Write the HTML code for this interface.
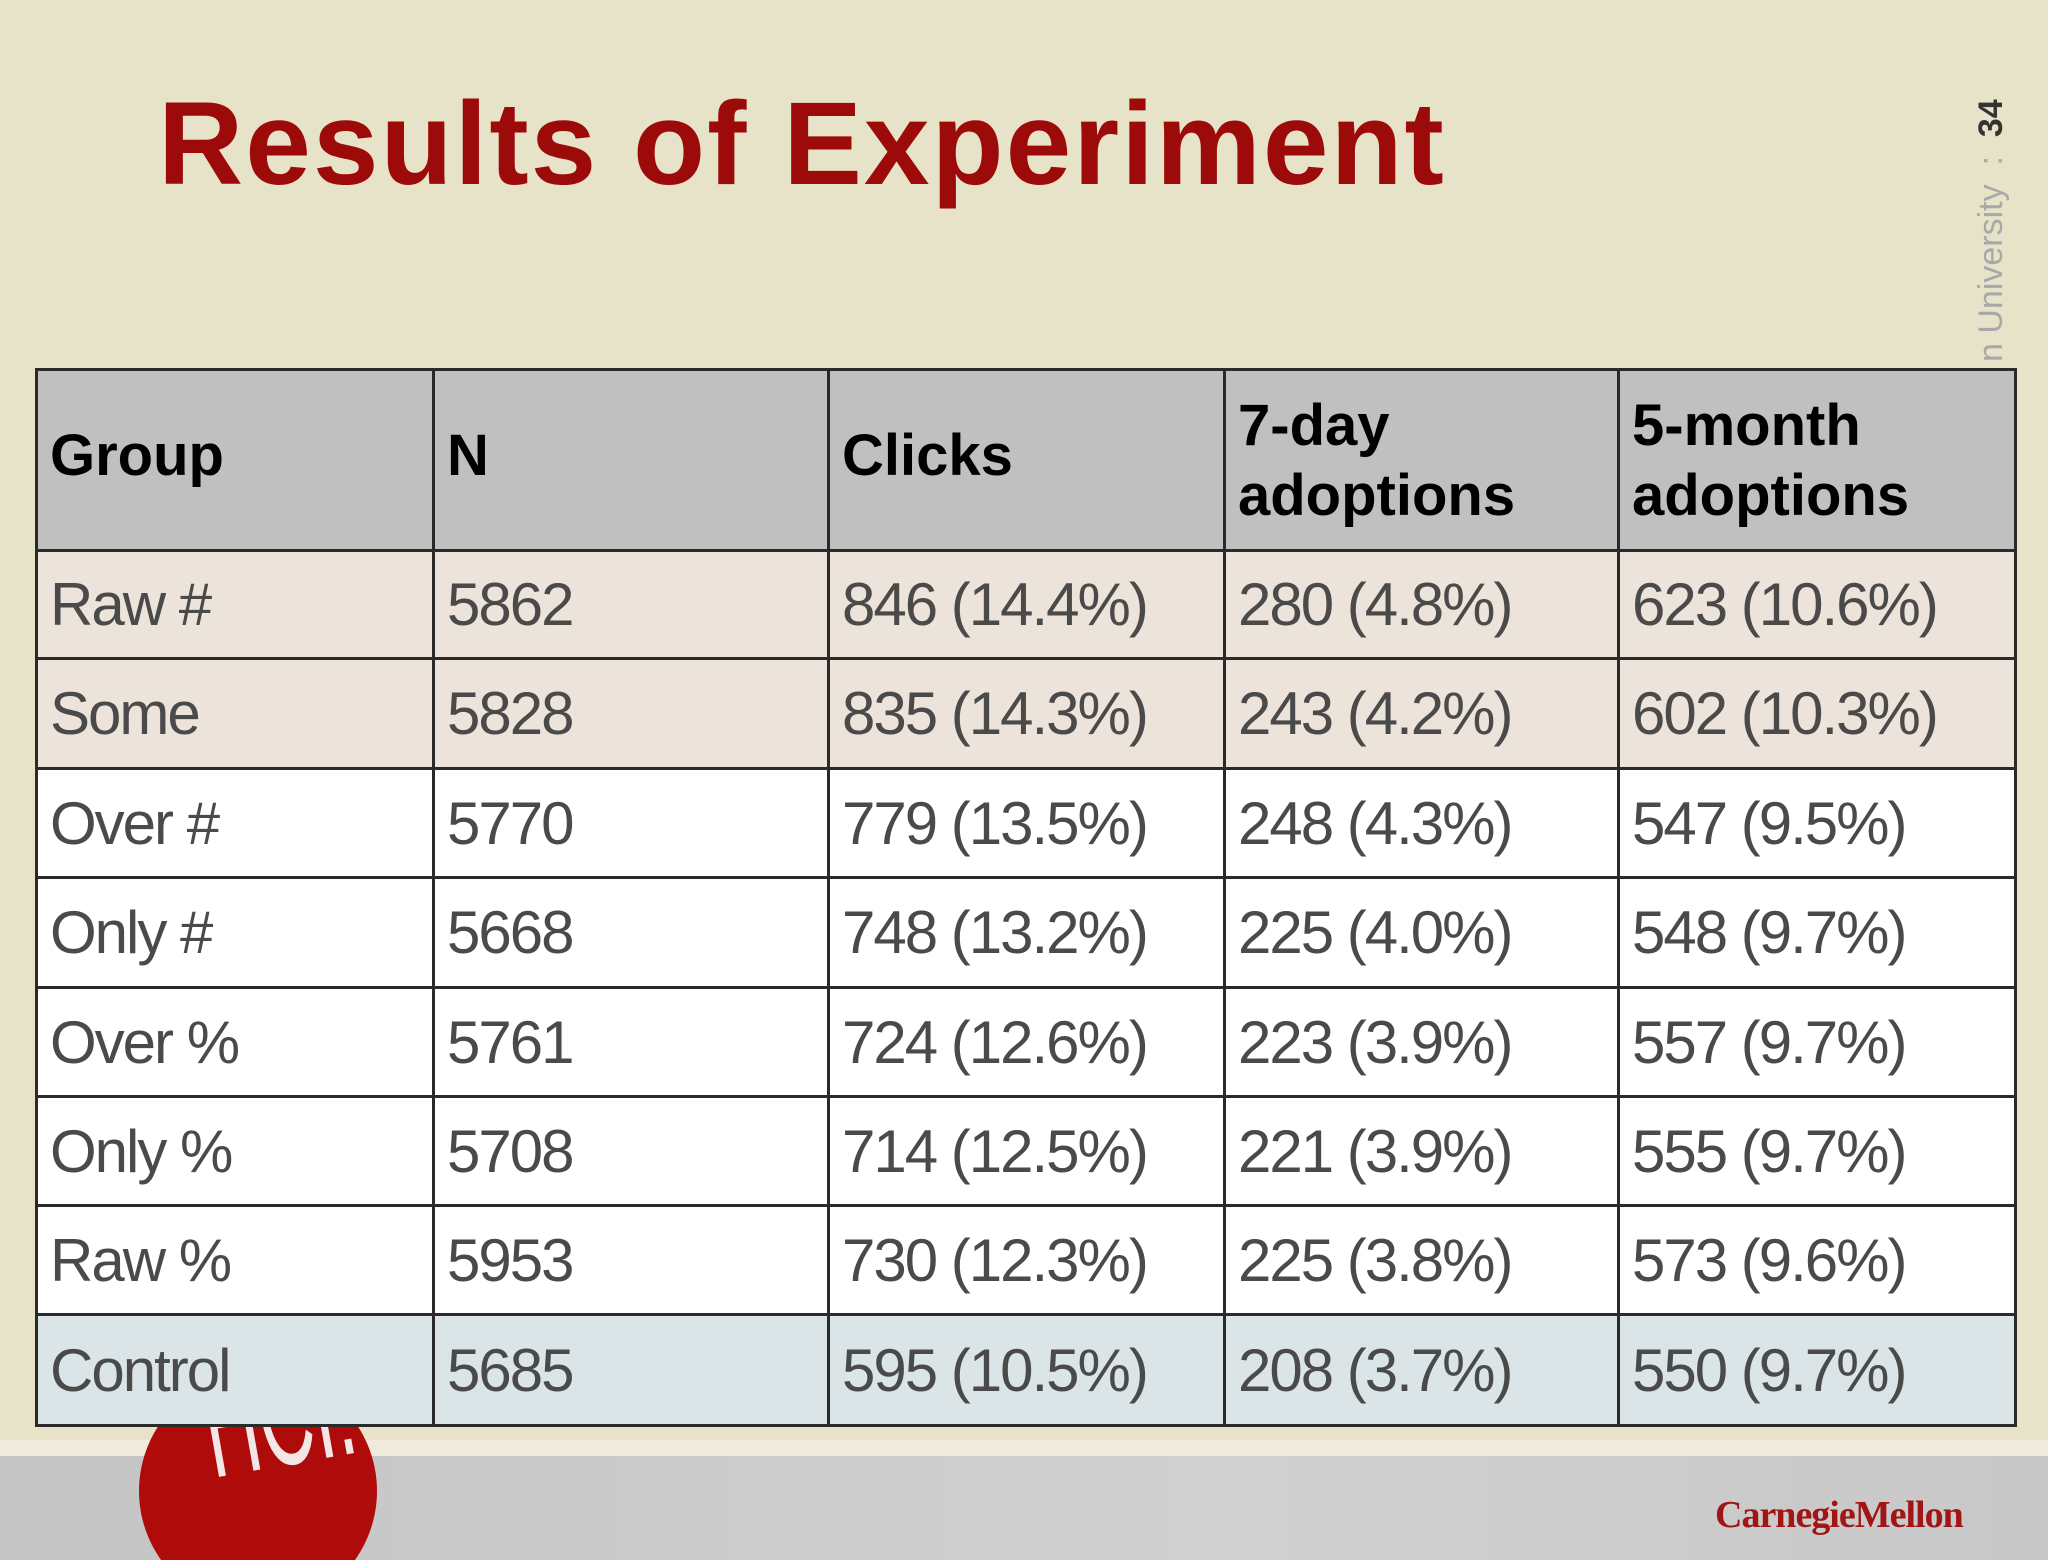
<!DOCTYPE html>
<html><head><meta charset="utf-8"><style>
html,body{margin:0;width:2048px;height:1560px;overflow:hidden}
body{background:#e7e3c9;position:relative;font-family:"Liberation Sans",sans-serif}
.abs{position:absolute}
.cell{position:absolute;box-sizing:border-box;border:3px solid #2a2a2a;overflow:hidden;white-space:nowrap}
.hd{background:#c0c0c0;font-weight:bold;color:#000;font-size:58px;line-height:70px;padding:20px 0 0 12px}
.bd{color:#4a4a4a;font-size:60px;padding-left:12px;display:flex;align-items:center;letter-spacing:-2px}
</style></head><body>
<div id="clip" class="abs" style="left:0;top:0;width:2048px;height:1560px;overflow:hidden">
<div class="abs" style="left:158px;top:76px;font-size:118px;font-weight:bold;color:#9c0a0a;letter-spacing:2px">Results of Experiment</div>
<div class="abs" style="left:1972px;top:362px;transform-origin:0 0;transform:rotate(-90deg);font-size:34px;color:#a8a8a8;white-space:nowrap">n University &nbsp;: &nbsp;<b style="color:#333">34</b></div>
<div class="abs" style="left:0;top:1440px;width:2048px;height:18px;background:#efeadb"></div>
<div class="abs" style="left:0;top:1456px;width:2048px;height:104px;background:linear-gradient(90deg,#c5c5c5,#d0d0d0 60%,#c8c8c8)"></div>
<div class="abs" style="left:139px;top:1372px;width:238px;height:238px;border-radius:50%;background:#b00b0b;overflow:hidden"><div style="position:absolute;left:50px;top:-30px;color:#f2e6e6;font-size:150px;transform:rotate(-10deg) scaleX(0.5);transform-origin:0 0">HCI!</div></div>
<div class="abs" style="left:1715px;top:1493px;font-family:'Liberation Serif',serif;font-weight:bold;font-size:38px;color:#a01515;letter-spacing:-1px">CarnegieMellon</div>
<div id="tbl" class="abs" style="left:0;top:0"></div>
</div>
<script>
const headers=["Group","N","Clicks","7-day<br>adoptions","5-month<br>adoptions"];
const groups=["Raw #","Some","Over #","Only #","Over %","Only %","Raw %","Control"];
const nVals=["5862","5828","5770","5668","5761","5708","5953","5685"];
const clicks=["846 (14.4%)","835 (14.3%)","779 (13.5%)","748 (13.2%)","724 (12.6%)","714 (12.5%)","730 (12.3%)","595 (10.5%)"];
const day7=["280 (4.8%)","243 (4.2%)","248 (4.3%)","225 (4.0%)","223 (3.9%)","221 (3.9%)","225 (3.8%)","208 (3.7%)"];
const month5=["623 (10.6%)","602 (10.3%)","547 (9.5%)","548 (9.7%)","557 (9.7%)","555 (9.7%)","573 (9.6%)","550 (9.7%)"];
const colX=[35,432,827,1223,1617,2014];
const rowY=[368,549,657,767,876,986,1095,1204,1313,1424];
const rowBg=["#ece3da","#ece3da","#fff","#fff","#fff","#fff","#fff","#dbe4e7"];
const t=document.getElementById('tbl');
const cols=[groups,nVals,clicks,day7,month5];
for(let c=0;c<5;c++){
  const h=document.createElement('div');
  h.className='cell hd';
  
  
  h.style.cssText+=`left:${colX[c]}px;top:${rowY[0]}px;width:${colX[c+1]-colX[c]+3}px;height:${rowY[1]-rowY[0]+3}px;`;
  if(c<3){h.style.paddingTop='50px';}
  h.innerHTML=headers[c];
  t.appendChild(h);
  for(let r=0;r<8;r++){
    const d=document.createElement('div');
    d.className='cell bd';
    
    
    d.style.cssText+=`left:${colX[c]}px;top:${rowY[r+1]}px;width:${colX[c+1]-colX[c]+3}px;height:${rowY[r+2]-rowY[r+1]+3}px;background:${rowBg[r]};`;
    d.textContent=cols[c][r];
    t.appendChild(d);
  }
}
</script>
</body></html>
